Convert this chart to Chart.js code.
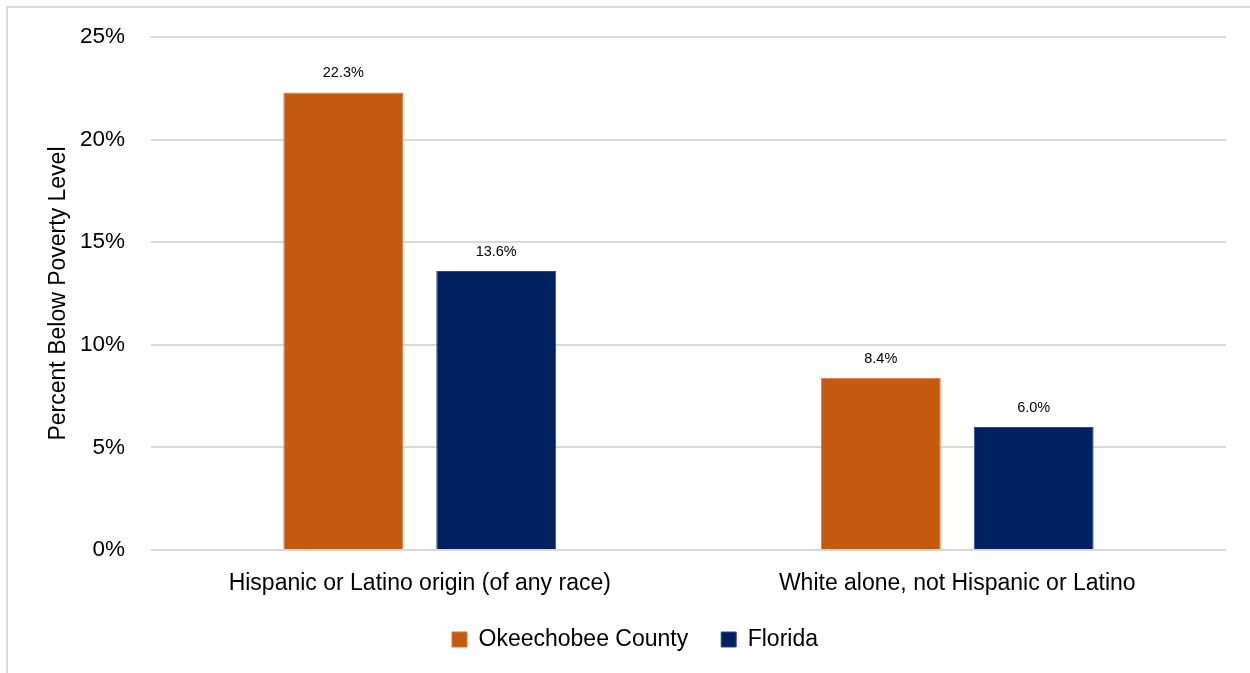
<!DOCTYPE html>
<html>
<head>
<meta charset="utf-8">
<script src="https://cdn.jsdelivr.net/npm/chart.js@4.4.1/dist/chart.umd.min.js"></script>
<style>
  html, body { margin: 0; padding: 0; background: #fff; overflow: hidden; }
  #frame { position: absolute; left: 6px; top: 6px; width: 1300px; height: 700px;
           border-left: 2px solid #d9d9d9; border-top: 2px solid #d9d9d9; }
  #wrap { position: absolute; left: 0; top: 0; width: 1250px; height: 673px; }
</style>
</head>
<body>
<div id="frame"></div>
<div id="wrap"><canvas id="c" width="1250" height="673"></canvas></div>
<script>
const categories = ["Hispanic or Latino origin (of any race)", "White alone, not Hispanic or Latino"];
const seriesNames = ["Okeechobee County", "Florida"];
const okeechobeeValues = [22.3, 8.4];
const floridaValues = [13.6, 6.0];
const yTickValues = [0, 5, 10, 15, 20, 25];

const FONT = "'Liberation Sans', Arial, sans-serif";

const dataLabelPlugin = {
  id: 'dataLabels',
  afterDatasetsDraw(chart) {
    const ctx = chart.ctx;
    ctx.save();
    ctx.font = "14.5px " + FONT;
    ctx.fillStyle = "#000";
    ctx.textAlign = "center";
    ctx.textBaseline = "alphabetic";
    chart.data.datasets.forEach((ds, i) => {
      const meta = chart.getDatasetMeta(i);
      meta.data.forEach((bar, j) => {
        ctx.fillText(ds.data[j].toFixed(1) + "%", bar.x, bar.y - 15);
      });
    });
    ctx.restore();
  }
};

new Chart(document.getElementById('c'), {
  type: 'bar',
  data: {
    labels: categories,
    datasets: [
      { label: seriesNames[0], data: okeechobeeValues, backgroundColor: '#C55A11',
        borderColor: '#D9773A', borderWidth: 1, categoryPercentage: 0.569, barPercentage: 0.784 },
      { label: seriesNames[1], data: floridaValues, backgroundColor: '#002060',
        borderColor: '#2F4A86', borderWidth: 1, categoryPercentage: 0.569, barPercentage: 0.784 }
    ]
  },
  options: {
    responsive: false,
    animation: false,
    devicePixelRatio: 1,
    layout: { padding: { top: 37, right: 24, left: 44, bottom: 12 } },
    plugins: {
      legend: {
        position: 'bottom',
        labels: {
          font: { family: FONT, size: 23 },
          color: '#000',
          boxWidth: 15, boxHeight: 15,
          padding: 33
        }
      },
      tooltip: { enabled: false }
    },
    scales: {
      x: {
        grid: { display: false },
        border: { display: false },
        ticks: { font: { family: FONT, size: 23 }, color: '#000', padding: 12, maxRotation: 0 },
        afterFit(scale) { scale.height = 45; }
      },
      y: {
        min: 0, max: 25,
        afterBuildTicks(scale) { scale.ticks = yTickValues.map(v => ({ value: v })); },
        ticks: { font: { family: FONT, size: 22.5, lineHeight: 0.9 }, color: '#000', padding: 26,
                 callback: v => v + '%' },
        grid: { color: '#d9d9d9', lineWidth: 2, drawTicks: false },
        border: { display: false },
        title: { display: true, text: 'Percent Below Poverty Level',
                 font: { family: FONT, size: 23 }, color: '#000', padding: { top: 1, bottom: 0 } },
        afterFit(scale) { scale.width = 107; }
      }
    }
  },
  plugins: [dataLabelPlugin]
});
</script>
</body>
</html>
